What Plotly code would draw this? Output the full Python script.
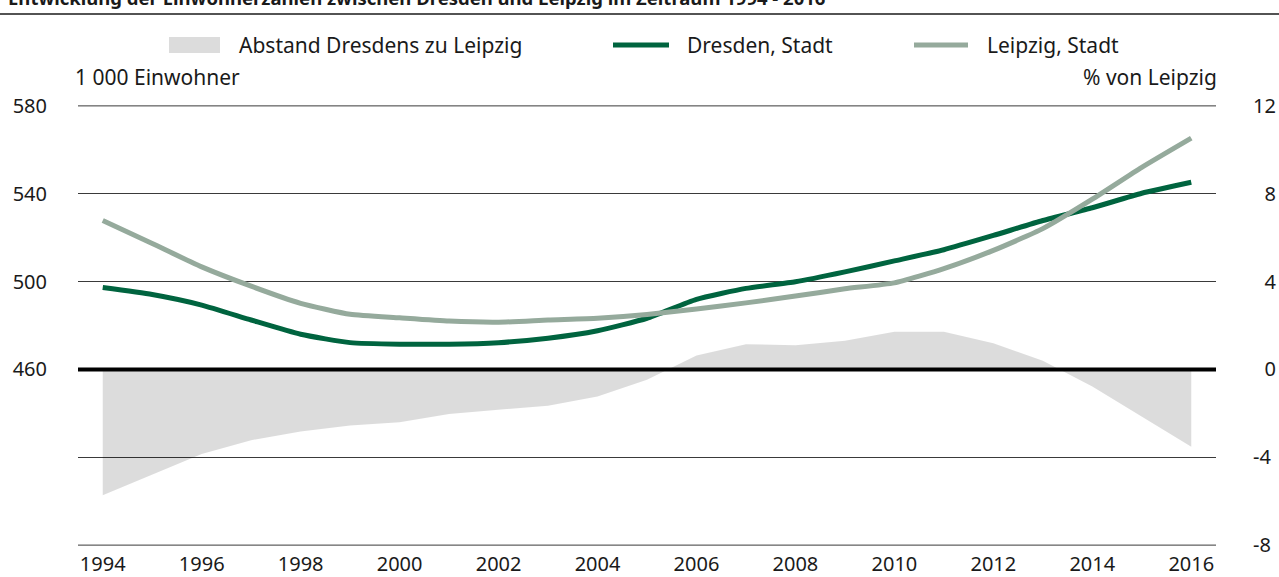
import plotly.graph_objects as go

years = list(range(1994, 2017))
dresden = [497.3, 494.1, 489.3, 482.5, 476.0, 472.2, 471.5, 471.5, 472.2, 474.2, 477.6, 483.3,
           491.9, 496.9, 499.9, 504.4, 509.4, 514.5, 521.0, 527.8, 533.6, 540.2, 545.2]
leipzig = [527.8, 517.3, 506.7, 497.9, 490.1, 485.1, 483.5, 482.0, 481.5, 482.5, 483.3, 485.0,
           487.5, 490.3, 493.4, 496.7, 499.4, 505.9, 514.2, 524.1, 537.5, 552.0, 565.3]
abstand = [-5.73, -4.78, -3.85, -3.22, -2.83, -2.55, -2.41, -2.03, -1.83, -1.65, -1.23, -0.47,
           0.63, 1.15, 1.10, 1.30, 1.72, 1.72, 1.19, 0.40, -0.78, -2.14, -3.52]

left_ticks = [460, 500, 540, 580]
right_ticks = [-8, -4, 0, 4, 8, 12]
x_ticks = list(range(1994, 2017, 2))

title_text = "Entwicklung der Einwohnerzahlen zwischen Dresden und Leipzig im Zeitraum 1994 - 2016"
legend_names = ["Abstand Dresdens zu Leipzig", "Dresden, Stadt", "Leipzig, Stadt"]

W, H = 1279, 577
L, R, T, B = 78, 63, 105, 31
PW, PH = W - L - R, H - T - B

def px(x):
    return (x - L) / PW

def py(y):
    return (H - B - y) / PH

FONT = "Noto Sans, Open Sans, sans-serif"
DARK = "#00643f"
LIGHT = "#95aa9c"
TXT = "#1a1a1a"
GRID = "#3a3a3a"
EPS = 0.04

fig = go.Figure()
fig.add_trace(go.Scatter(x=years, y=abstand, mode="lines", fill="tozeroy",
                         fillcolor="rgba(0,0,0,0.137)", line=dict(width=0, color="rgba(0,0,0,0)"),
                         name=legend_names[0], yaxis="y", showlegend=False, hoverinfo="skip"))
fig.add_trace(go.Scatter(x=years, y=dresden, mode="lines", name=legend_names[1], yaxis="y2",
                         line=dict(color=DARK, width=5, shape="spline", smoothing=0.5),
                         showlegend=False))
fig.add_trace(go.Scatter(x=years, y=leipzig, mode="lines", name=legend_names[2], yaxis="y2",
                         line=dict(color=LIGHT, width=5, shape="spline", smoothing=0.5),
                         showlegend=False))

def rlabel(v):
    s = str(v)
    if 0 <= v < 10:
        s = "\u2007" + s
    return s

fig.update_layout(
    width=W, height=H,
    margin=dict(l=L, r=R, t=T, b=B, autoexpand=False),
    paper_bgcolor="white", plot_bgcolor="white",
    font=dict(family=FONT, size=20, color=TXT),
    xaxis=dict(range=[1993.5, 2016.5], tickvals=x_ticks, showgrid=False, zeroline=False,
               showline=False, ticks="", ticklabelstandoff=4, automargin=False,
               tickfont=dict(family=FONT, size=20, color=TXT)),
    yaxis=dict(side="right", range=[-8 - EPS, 12 + EPS], tickvals=right_ticks,
               ticktext=[rlabel(v) for v in right_ticks],
               showgrid=True, gridcolor=GRID, gridwidth=1, zeroline=False,
               showline=False, ticks="", ticklabelstandoff=36, automargin=False,
               tickfont=dict(family=FONT, size=20, color=TXT)),
    yaxis2=dict(side="left", overlaying="y", range=[380 - 10 * EPS, 580 + 10 * EPS], tickvals=left_ticks,
                showgrid=False, zeroline=False, showline=False, ticks="", ticklabelstandoff=30,
                automargin=False, tickfont=dict(family=FONT, size=20, color=TXT)),
    showlegend=False,
)

shapes = []
for v in (right_ticks[0], right_ticks[-1]):
    shapes.append(dict(type="line", xref="paper", yref="y", x0=0, x1=1, y0=v, y1=v,
                       line=dict(color=GRID, width=1), layer="below"))
shapes.append(dict(type="line", xref="paper", yref="y", x0=0, x1=1, y0=0, y1=0,
                   line=dict(color="black", width=4), layer="above"))
shapes.append(dict(type="line", xref="paper", yref="paper", x0=px(0), x1=px(W), y0=py(14), y1=py(14),
                   line=dict(color="#1a1a1a", width=1.5)))
shapes.append(dict(type="rect", xref="paper", yref="paper", x0=px(169), x1=px(220), y0=py(53), y1=py(37),
                   fillcolor="#dcdcdc", line=dict(width=0)))
shapes.append(dict(type="line", xref="paper", yref="paper", x0=px(613), x1=px(669), y0=py(45), y1=py(45),
                   line=dict(color=DARK, width=5)))
shapes.append(dict(type="line", xref="paper", yref="paper", x0=px(914), x1=px(968), y0=py(45), y1=py(45),
                   line=dict(color=LIGHT, width=5)))
fig.update_layout(shapes=shapes)

ann = []
ann.append(dict(text="<b>" + title_text + "</b>", xref="paper", yref="paper", x=px(6), y=py(12),
                xanchor="left", yanchor="bottom", showarrow=False,
                font=dict(family=FONT, size=18.5, color=TXT)))
for name, xl in zip(legend_names, [237, 685, 985]):
    ann.append(dict(text=name, xref="paper", yref="paper", x=px(xl), y=py(45), xanchor="left",
                    yanchor="middle", showarrow=False, font=dict(family=FONT, size=21, color=TXT)))
ann.append(dict(text="1 000 Einwohner", xref="paper", yref="paper", x=px(73), y=py(77), xanchor="left",
                yanchor="middle", showarrow=False, font=dict(family=FONT, size=21, color=TXT)))
ann.append(dict(text="% von Leipzig", xref="paper", yref="paper", x=px(1219), y=py(77), xanchor="right",
                yanchor="middle", showarrow=False, font=dict(family=FONT, size=21, color=TXT)))
fig.update_layout(annotations=ann)

fig.write_html("out.html", config={"displayModeBar": False},
               post_script="document.body.style.margin='0px';document.body.style.overflow='hidden';")
